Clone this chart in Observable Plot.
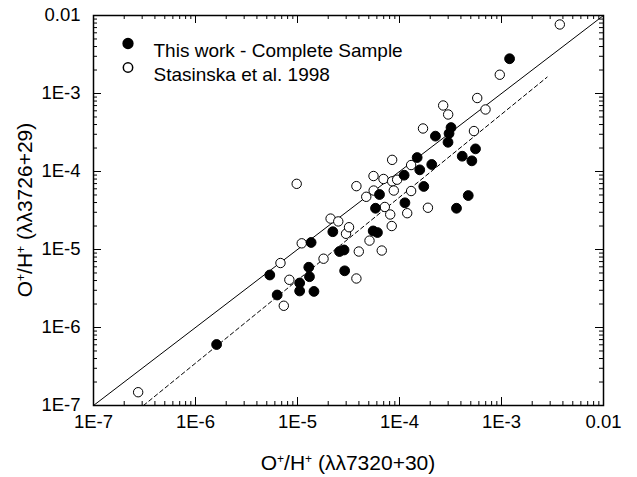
<!DOCTYPE html>
<html><head><meta charset="utf-8">
<script src="https://cdn.jsdelivr.net/npm/d3@7"></script>
<script src="https://cdn.jsdelivr.net/npm/@observablehq/plot@0.6"></script>
<style>
body{margin:0;background:#fff}
svg{font-family:"Liberation Sans",Arial,Helvetica,sans-serif}
</style>
</head><body><div id="chart"></div>
<script>
// This work - Complete Sample (filled)
const thisWorkX = [1.61e-6,5.35e-6,6.32e-6,1.05e-5,1.05e-5,1.29e-5,1.31e-5,1.45e-5,1.36e-5,2.22e-5,2.58e-5,2.86e-5,2.90e-5,5.82e-5,5.52e-5,6.08e-5,6.37e-5,1.13e-4,1.11e-4,1.73e-4,1.58e-4,2.07e-4,1.49e-4,2.25e-4,3.20e-4,3.06e-4,2.99e-4,4.12e-4,5.56e-4,5.12e-4,4.72e-4,3.62e-4,1.20e-3];
const thisWorkY = [6.05e-7,4.71e-6,2.61e-6,3.72e-6,2.94e-6,5.92e-6,4.48e-6,2.90e-6,1.23e-5,1.69e-5,9.42e-6,9.86e-6,5.33e-6,3.38e-5,1.73e-5,1.65e-5,5.07e-5,3.97e-5,8.97e-5,6.43e-5,1.05e-4,1.23e-4,1.51e-4,2.84e-4,3.66e-4,3.07e-4,2.37e-4,1.57e-4,1.95e-4,1.37e-4,4.92e-5,3.38e-5,2.79e-3];
// Stasinska et al. 1998 (open)
const stasX = [2.74e-7,6.81e-6,7.34e-6,8.32e-6,1.10e-5,1.80e-5,2.11e-5,2.51e-5,2.99e-5,3.20e-5,3.99e-5,3.78e-5,5.08e-5,6.70e-5,7.18e-5,8.11e-5,8.39e-5,9.82e-6,3.78e-5,4.72e-5,5.56e-5,6.97e-5,5.58e-5,8.47e-5,9.48e-5,8.79e-5,1.19e-4,1.30e-4,1.90e-4,8.47e-5,1.30e-4,1.70e-4,2.68e-4,3.00e-4,5.78e-4,6.97e-4,5.37e-4,9.62e-4,3.73e-3];
const stasY = [1.48e-7,6.71e-6,1.90e-6,4.09e-6,1.20e-5,7.62e-6,2.49e-5,2.29e-5,1.59e-5,1.93e-5,9.42e-6,4.25e-6,1.30e-5,9.70e-6,3.51e-5,2.81e-5,2.00e-5,6.95e-5,6.49e-5,4.74e-5,8.75e-5,8.02e-5,5.70e-5,7.48e-5,7.85e-5,5.70e-5,2.92e-5,5.62e-5,3.43e-5,1.41e-4,1.21e-4,3.56e-4,7.02e-4,5.38e-4,8.75e-4,6.24e-4,3.30e-4,1.74e-3,7.67e-3];
// reference lines
const identityX = [1e-7, 1e-2];
const identityY = [1e-7, 1e-2];
const fitX = [3.09e-7, 2.8e-3];
const fitY = [1e-7, 1.62e-3];
// ticks
const tickValues = [1e-7,1e-6,1e-5,1e-4,1e-3,1e-2];
const tickLabels = ["1E-7","1E-6","1E-5","1E-4","1E-3","0.01"];
const minorMultipliers = [2,3,4,5,6,7,8,9];
const legendLabels = ["This work - Complete Sample","Stasinska et al. 1998"];

const thisWork = thisWorkX.map((x,i)=>({x, y:thisWorkY[i]}));
const stas = stasX.map((x,i)=>({x, y:stasY[i]}));
const identity = identityX.map((x,i)=>({x, y:identityY[i]}));
const fit = fitX.map((x,i)=>({x, y:fitY[i]}));
const minorTicks = tickValues.slice(0,-1).flatMap(d=>minorMultipliers.map(m=>d*m));

const W=637, H=477, mT=15, mB=72, mL=93, mR=34;
const pw=W-mL-mR, ph=H-mT-mB;
const majLen=8, minLen=4;
const fmt = d => tickLabels[tickValues.indexOf(d)];

const plot = Plot.plot({
  width: W, height: H,
  marginTop: mT, marginBottom: mB, marginLeft: mL, marginRight: mR,
  style: {fontFamily: '"Liberation Sans",Arial,Helvetica,sans-serif', color: "#000", background: "#fff"},
  x: {type: "log", domain: [1e-7, 1e-2]},
  y: {type: "log", domain: [1e-7, 1e-2]},
  marks: [
    Plot.axisX({ticks: tickValues, tickSize: 0, tickPadding: 9, tickFormat: fmt, label: null, fontSize: 18.5}),
    Plot.axisY({ticks: tickValues, tickSize: 0, tickPadding: 13, tickFormat: fmt, label: null, fontSize: 18.5}),
    // inward ticks bottom/top
    Plot.tickX(tickValues, {x: d=>d, insetTop: ph-majLen, stroke: "black"}),
    Plot.tickX(tickValues, {x: d=>d, insetBottom: ph-majLen, stroke: "black"}),
    Plot.tickX(minorTicks, {x: d=>d, insetTop: ph-minLen, stroke: "black"}),
    Plot.tickX(minorTicks, {x: d=>d, insetBottom: ph-minLen, stroke: "black"}),
    // inward ticks left/right
    Plot.tickY(tickValues, {y: d=>d, insetRight: pw-majLen, stroke: "black"}),
    Plot.tickY(tickValues, {y: d=>d, insetLeft: pw-majLen, stroke: "black"}),
    Plot.tickY(minorTicks, {y: d=>d, insetRight: pw-minLen, stroke: "black"}),
    Plot.tickY(minorTicks, {y: d=>d, insetLeft: pw-minLen, stroke: "black"}),
    Plot.line(identity, {x: "x", y: "y", stroke: "black", strokeWidth: 1}),
    Plot.line(fit, {x: "x", y: "y", stroke: "black", strokeWidth: 1, strokeDasharray: "4,3"}),
    Plot.dot(stas, {x: "x", y: "y", r: 4.7, fill: "white", stroke: "black", strokeWidth: 1}),
    Plot.dot(thisWork, {x: "x", y: "y", r: 4.9, fill: "black", stroke: "black", strokeWidth: 1}),
    // legend
    Plot.dot([legendLabels[0]], {frameAnchor: "top-left", dx: 34.5, dy: 28, r: 4.9, fill: "black", stroke: "black"}),
    Plot.dot([legendLabels[1]], {frameAnchor: "top-left", dx: 34.5, dy: 52, r: 4.7, fill: "white", stroke: "black"}),
    Plot.text([legendLabels[0]], {frameAnchor: "top-left", text: d=>d, dx: 60, dy: 28, textAnchor: "start", fontSize: 19, fill: "black"}),
    Plot.text([legendLabels[1]], {frameAnchor: "top-left", text: d=>d, dx: 60, dy: 52, textAnchor: "start", fontSize: 19, fill: "black"}),
    Plot.frame({stroke: "black", strokeWidth: 1.5})
  ]
});

const svg = d3.select(plot);
function title(sel, line) {
  sel.append("tspan").text("O");
  sel.append("tspan").attr("baseline-shift", "super").attr("font-size", 12).text("+");
  sel.append("tspan").text("/H");
  sel.append("tspan").attr("baseline-shift", "super").attr("font-size", 12).text("+");
  sel.append("tspan").text(" (λλ" + line + ")");
}
const xt = svg.append("text").attr("x", 348).attr("y", 470).attr("text-anchor", "middle")
  .attr("font-size", 21).attr("fill", "black");
title(xt, "7320+30");
const yt = svg.append("text").attr("transform", "translate(32,210) rotate(-90)").attr("text-anchor", "middle")
  .attr("font-size", 21).attr("fill", "black");
title(yt, "3726+29");

document.getElementById("chart").appendChild(plot);
</script>
</body></html>
